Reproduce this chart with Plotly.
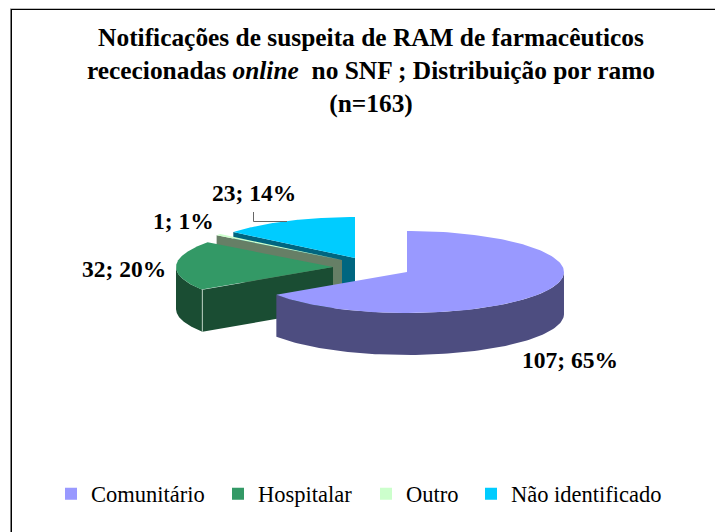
import numpy as np
import plotly.graph_objects as go

# The page puts the figure 8 px in from its top-left corner; the axes run on the
# reference picture's own pixel grid, so they start at 8.
PAGE_W, PAGE_H, OFFSET = 723, 532, 8
W, H = PAGE_W - OFFSET, PAGE_H - OFFSET

categories = ["Comunitário", "Hospitalar", "Outro", "Não identificado"]
values = [107, 32, 1, 23]
percents = [65, 20, 1, 14]
top_colors = ["#9999FF", "#339966", "#CCFFCC", "#00CCFF"]
side_colors = ["#4D4D80", "#1A4D33", "#667F66", "#006680"]
apex_x = [407, 333, 342, 355]
apex_y = [272, 267, 260, 258]
label_x = [570, 124, 183, 254]
label_y = [360, 269, 221, 193]
legend_text_x = [91, 258, 406, 511]
TITLE = ("<b>Notificações de suspeita de RAM de farmacêuticos<br>"
         "rececionadas <i>online</i>  no SNF ; Distribuição por ramo<br>(n=163)</b>")
FONT = "Liberation Serif, serif"
RX, RY, DEPTH = 157, 41, 42

total = sum(values)
edges = np.cumsum([0] + values) / total * 2 * np.pi


def ell(cx, cy, a):
    return cx + RX * np.sin(a), cy - RY * np.cos(a)


def poly(fig, xs, ys, color):
    fig.add_trace(go.Scatter(x=list(xs), y=list(ys), mode="lines", fill="toself", fillcolor=color,
                             line=dict(width=0, color=color),
                             showlegend=False, hoverinfo="skip"))


fig = go.Figure()
# painted back to front: blue, outro, green, purple
for i in [3, 2, 1, 0]:
    cx, cy = apex_x[i], apex_y[i]
    a0, a1 = edges[i], edges[i + 1]
    arc = np.linspace(a0, a1, 160)
    ax, ay = ell(cx, cy, arc)

    # the radial cut face on the slice's leading edge, when it looks towards the viewer
    if np.sin(a0) < -1e-9:
        ex, ey = ell(cx, cy, a0)
        poly(fig, [cx, ex, ex, cx, cx], [cy, ey, ey + DEPTH, cy + DEPTH, cy], side_colors[i])
    # outer wall: only the part of the arc facing the viewer
    front = arc[np.cos(arc) < 0]
    if len(front):
        fx, fy = ell(cx, cy, front)
        poly(fig, np.r_[fx, fx[::-1], fx[0]], np.r_[fy, fy[::-1] + DEPTH, fy[0]], side_colors[i])
    # top face
    poly(fig, np.r_[cx, ax, cx], np.r_[cy, ay, cy], top_colors[i])

# light seam on the green slice's front edge
sx, sy = ell(apex_x[1], apex_y[1], edges[1])
fig.add_trace(go.Scatter(x=[sx, sx], y=[sy, sy + DEPTH], mode="lines",
                         line=dict(color="#B7CDBF", width=1), showlegend=False, hoverinfo="skip"))

# leader line for the last label
fig.add_trace(go.Scatter(x=[253.5, 253.5, 287], y=[212, 221.5, 221.5], mode="lines",
                         line=dict(color="#666666", width=1), showlegend=False, hoverinfo="skip"))

# legend entries, one legend each so that they can sit where the original has them
layout_legends = {}
for i, name in enumerate(categories):
    key = "legend" if i == 0 else f"legend{i + 1}"
    fig.add_trace(go.Scatter(x=[None], y=[None], mode="markers", name=name, legend=key,
                             marker=dict(symbol="square", size=12, color=top_colors[i])))
    layout_legends[key] = dict(x=(legend_text_x[i] - OFFSET - 40) / W, y=1 - (494 - OFFSET) / H,
                               xanchor="left", yanchor="middle",
                               bgcolor="rgba(0,0,0,0)", itemsizing="trace",
                               font=dict(family=FONT, size=22.5, color="#000000"))

annotations = [dict(x=x, y=y, xref="x", yref="y", showarrow=False,
                    text=f"<b>{v}; {p}%</b>", font=dict(family=FONT, size=23.5, color="#000000"))
               for x, y, v, p in zip(label_x, label_y, values, percents)]

border = [(10, 8.5, PAGE_W, 8.5, "#BFBFBF"), (10, 9.5, PAGE_W, 9.5, "#000000"),
          (10.5, 9, 10.5, PAGE_H, "#808080"), (11.5, 9, 11.5, PAGE_H, "#000000")]

fig.update_layout(
    width=W, height=H, autosize=False, margin=dict(l=0, r=0, t=0, b=0),
    paper_bgcolor="#FFFFFF", plot_bgcolor="#FFFFFF", showlegend=True,
    title=dict(text=TITLE, x=(371 - OFFSET) / W, xanchor="center", y=1 - (46 - OFFSET) / H, yanchor="middle",
               font=dict(family=FONT, size=25.4, color="#000000")),
    xaxis=dict(range=[OFFSET, PAGE_W], visible=False, fixedrange=True),
    yaxis=dict(range=[PAGE_H, OFFSET], visible=False, fixedrange=True),
    annotations=annotations,
    shapes=[dict(type="line", xref="x", yref="y", x0=a, y0=b, x1=c, y1=d, line=dict(color=col, width=1))
            for a, b, c, d, col in border],
    **layout_legends,
)
fig.write_html("out.html", config=dict(displayModeBar=False))
